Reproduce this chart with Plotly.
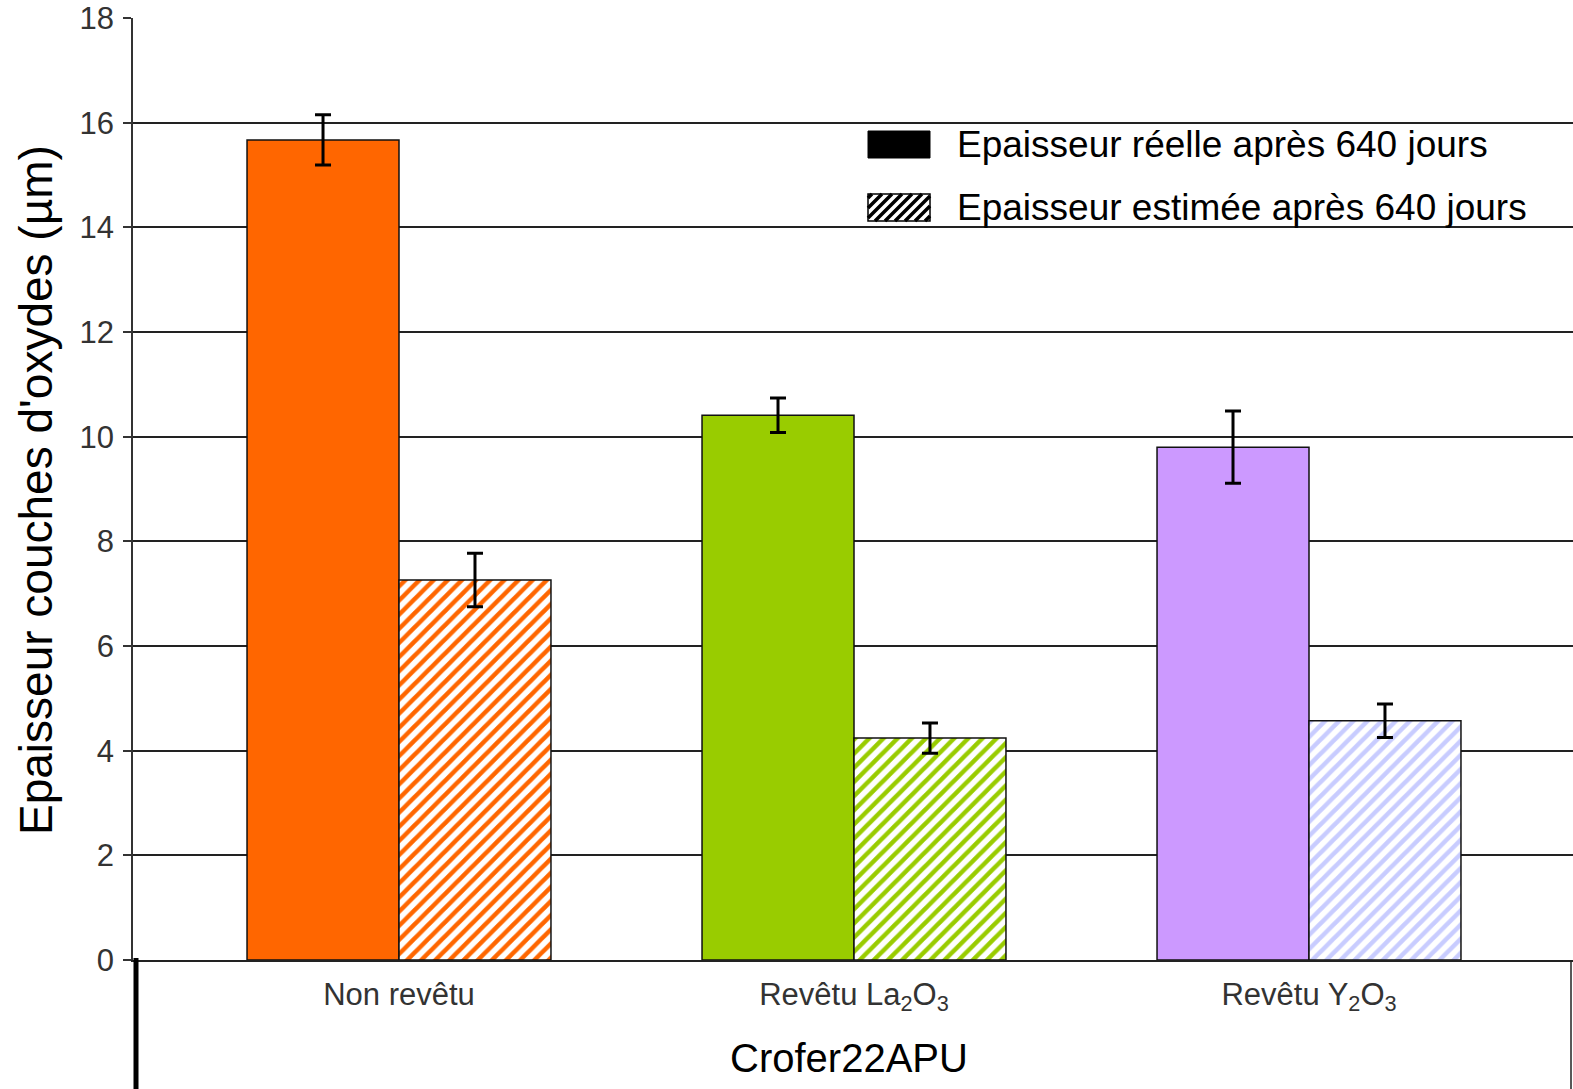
import plotly.graph_objects as go

# ---- data ----
categories = ["Non revêtu", "Revêtu La<sub>2</sub>O<sub>3</sub>", "Revêtu Y<sub>2</sub>O<sub>3</sub>"]
reel_values = [15.67, 10.41, 9.80]
reel_errors = [0.48, 0.33, 0.69]
estime_values = [7.26, 4.24, 4.57]
estime_errors = [0.51, 0.29, 0.32]
y_ticks = [0, 2, 4, 6, 8, 10, 12, 14, 16, 18]
series_names = ["Epaisseur réelle après 640 jours", "Epaisseur estimée après 640 jours"]
group_title = "Crofer22APU"
y_title = "Epaisseur couches d'oxydes (µm)"

solid_colors = ["#FF6600", "#99CC00", "#CC99FF"]
hatch_colors = ["#FF6600", "#99CC00", "#C8CCFF"]

# ---- layout geometry (pixels) ----
W, H = 1573, 1089
ML, MR, MT, MB = 133, 0, 18, 129
PW, PH = W - ML - MR, H - MT - MB
def px(x):
    return (x - ML) / PW
def py(y):
    return (H - MB - y) / PH

FONT = "Arial, Liberation Sans, Helvetica, sans-serif"

fig = go.Figure()
fig.add_trace(go.Bar(
    x=categories, y=reel_values, name=series_names[0], showlegend=False,
    marker=dict(color=solid_colors, line=dict(color="#111", width=1.5)),
    error_y=dict(type="data", array=reel_errors, color="black", thickness=3, width=8),
))
fig.add_trace(go.Bar(
    x=categories, y=estime_values, name=series_names[1], showlegend=False,
    marker=dict(color="white", line=dict(color="#111", width=1.5),
                pattern=dict(shape="/", fillmode="replace", bgcolor="white",
                             fgcolor=hatch_colors, size=10, solidity=0.45)),
    error_y=dict(type="data", array=estime_errors, color="black", thickness=3, width=8),
))

# x range so categories sit at the reference pixel centres (399, 854, 1309)
c0, step = 399, 455
xr = [(ML - c0) / step, (W - MR - c0) / step]

fig.update_layout(
    width=W, height=H,
    margin=dict(l=ML, r=MR, t=MT, b=MB, pad=0),
    paper_bgcolor="white", plot_bgcolor="white",
    barmode="group", bargap=0.332, bargroupgap=0,
    font=dict(family=FONT, color="#222"),
    showlegend=False,
    xaxis=dict(range=xr, showline=True, linecolor="#222", linewidth=1.5,
               showgrid=False, ticks="", ticklabelstandoff=6,
               tickfont=dict(size=31, color="#333", family=FONT)),
    yaxis=dict(range=[0, 18], tickvals=y_ticks, showline=True, linecolor="#333", linewidth=1.5,
               showgrid=True, gridcolor="#222", gridwidth=1.5, zeroline=False,
               ticks="outside", ticklen=8, tickcolor="#333", tickwidth=1.5,
               ticklabelstandoff=3,
               tickfont=dict(size=31, color="#333", family=FONT)),
)

shapes = []
# category box lines below the axis
shapes.append(dict(type="line", xref="paper", yref="paper", x0=px(136), x1=px(136),
                   y0=py(958), y1=py(H + 5), line=dict(color="black", width=5)))
shapes.append(dict(type="line", xref="paper", yref="paper", x0=px(1571), x1=px(1571),
                   y0=py(960), y1=py(H + 5), line=dict(color="#222", width=1.5)))

# legend swatches
sx0, sx1 = 868, 930
rows = [(131, 158), (194, 221)]
shapes.append(dict(type="rect", xref="paper", yref="paper", x0=px(sx0), x1=px(sx1),
                   y0=py(rows[0][1]), y1=py(rows[0][0]), fillcolor="black",
                   line=dict(color="black", width=1)))
y0s, y1s = rows[1]
shapes.append(dict(type="rect", xref="paper", yref="paper", x0=px(sx0), x1=px(sx1),
                   y0=py(y1s), y1=py(y0s), fillcolor="white",
                   line=dict(color="black", width=1.5)))
path = ""
k = sx0 + y0s + 4
while k < sx1 + y1s:
    xa, xb = max(sx0, k - y1s), min(sx1, k - y0s)
    if xb > xa:
        path += f"M{px(xa)},{py(k - xa)} L{px(xb)},{py(k - xb)} "
    k += 10
shapes.append(dict(type="path", xref="paper", yref="paper", path=path,
                   line=dict(color="black", width=3.5)))
fig.update_layout(shapes=shapes)

annotations = [
    dict(text=series_names[0], x=px(955), y=py(145), xref="paper", yref="paper",
         xanchor="left", yanchor="middle", showarrow=False,
         font=dict(size=37, color="black", family=FONT)),
    dict(text=series_names[1], x=px(955), y=py(208), xref="paper", yref="paper",
         xanchor="left", yanchor="middle", showarrow=False,
         font=dict(size=37, color="black", family=FONT)),
    dict(text=group_title, x=px(849), y=py(1058), xref="paper", yref="paper",
         xanchor="center", yanchor="middle", showarrow=False,
         font=dict(size=40, color="black", family=FONT)),
    dict(text=y_title, x=px(36), y=py(490), xref="paper", yref="paper",
         xanchor="center", yanchor="middle", showarrow=False, textangle=-90,
         font=dict(size=46, color="black", family=FONT)),
]
fig.update_layout(annotations=annotations)

fig.write_html("out.html", config={"displayModeBar": False},
               post_script="document.body.style.margin='0';document.body.style.overflow='hidden';")
